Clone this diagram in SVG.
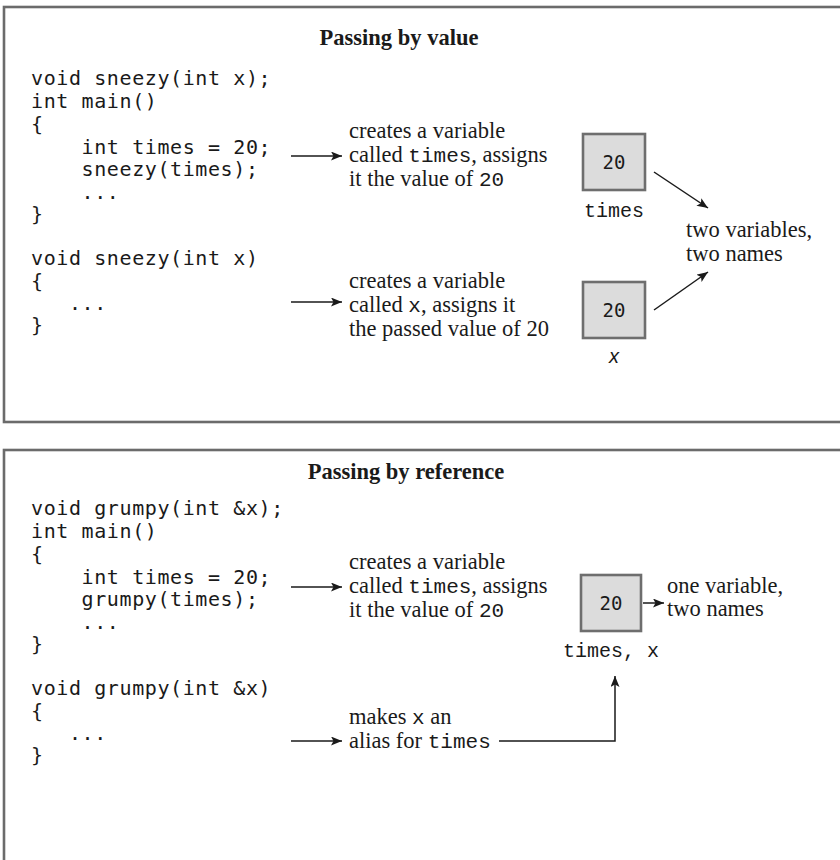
<svg xmlns="http://www.w3.org/2000/svg" width="840" height="860" viewBox="0 0 840 860">
<defs>
<marker id="ah" markerUnits="userSpaceOnUse" markerWidth="12" markerHeight="10" refX="11" refY="4.5" orient="auto">
<path d="M0,0 L11,4.5 L0,9 L2.5,4.5 z" fill="#1a1a1a"/>
</marker>
<style>
.frame{fill:none;stroke:#6b6b6b;stroke-width:2.6}
.title{font-family:"Liberation Serif","Times New Roman",serif;font-weight:bold;font-size:22.5px;fill:#1a1a1a}
.code{font-family:"DejaVu Sans Mono",monospace;font-size:20px;letter-spacing:0.6px;fill:#1a1a1a;white-space:pre}
.desc{font-family:"Liberation Serif","Times New Roman",serif;font-size:22.5px;fill:#1a1a1a}
.mono{font-family:"Liberation Mono","Courier New",monospace;font-size:21px}
.box{fill:#dcdcdc;stroke:#6e6e6e;stroke-width:2.6}
.val{font-family:"DejaVu Sans Mono",monospace;font-size:19px;fill:#1a1a1a;text-anchor:middle}
.lbl{font-family:"Liberation Mono","Courier New",monospace;font-size:20px;fill:#1a1a1a;text-anchor:middle;white-space:pre}
.conn{fill:none;stroke:#1a1a1a;stroke-width:1.5}
</style>
</defs>
<rect width="840" height="860" fill="#ffffff"/>

<g id="panel-value">
<rect class="frame" x="4" y="7" width="850" height="415"/>
<text class="title" x="399" y="45" text-anchor="middle">Passing by value</text>
</g>
<g id="panel-reference">
<rect class="frame" x="4" y="450" width="850" height="430"/>
<text class="title" x="406" y="479" text-anchor="middle">Passing by reference</text>
</g>

<g id="code-value-main">
<text class="code" x="31" y="85">void sneezy(int x);</text>
<text class="code" x="31" y="108">int main()</text>
<text class="code" x="31" y="131">{</text>
<text class="code" x="31" y="154">    int times = 20;</text>
<text class="code" x="31" y="176">    sneezy(times);</text>
<text class="code" x="31" y="199">    ...</text>
<text class="code" x="31" y="221">}</text>
</g>
<g id="code-value-func">
<text class="code" x="31" y="265">void sneezy(int x)</text>
<text class="code" x="31" y="288">{</text>
<text class="code" x="31" y="310">   ...</text>
<text class="code" x="31" y="332">}</text>
</g>

<g id="desc-value-1">
<text class="desc" x="349" y="138">creates a variable</text>
<text class="desc" x="349" y="162">called <tspan class="mono">times</tspan>, assigns</text>
<text class="desc" x="349" y="186">it the value of <tspan class="mono">20</tspan></text>
</g>
<g id="desc-value-2">
<text class="desc" x="349" y="288">creates a variable</text>
<text class="desc" x="349" y="312">called <tspan class="mono">x</tspan>, assigns it</text>
<text class="desc" x="349" y="336">the passed value of 20</text>
</g>

<g id="box-times">
<rect class="box" x="583" y="134" width="62" height="56"/>
<text class="val" x="614" y="169">20</text>
<text class="lbl" x="614" y="217">times</text>
</g>
<g id="box-x">
<rect class="box" x="583" y="282" width="62" height="56"/>
<text class="val" x="614" y="317">20</text>
<text x="614" y="363" text-anchor="middle" font-family="Liberation Sans, Arial, sans-serif" font-style="italic" font-size="20" fill="#1a1a1a">x</text>
</g>
<g id="note-two">
<text class="desc" x="686" y="237">two variables,</text>
<text class="desc" x="686" y="261">two names</text>
</g>

<g id="code-ref-main">
<text class="code" x="31" y="515">void grumpy(int &amp;x);</text>
<text class="code" x="31" y="538">int main()</text>
<text class="code" x="31" y="561">{</text>
<text class="code" x="31" y="584">    int times = 20;</text>
<text class="code" x="31" y="606">    grumpy(times);</text>
<text class="code" x="31" y="629">    ...</text>
<text class="code" x="31" y="651">}</text>
</g>
<g id="code-ref-func">
<text class="code" x="31" y="695">void grumpy(int &amp;x)</text>
<text class="code" x="31" y="718">{</text>
<text class="code" x="31" y="740">   ...</text>
<text class="code" x="31" y="762">}</text>
</g>

<g id="desc-ref-1">
<text class="desc" x="349" y="569">creates a variable</text>
<text class="desc" x="349" y="593">called <tspan class="mono">times</tspan>, assigns</text>
<text class="desc" x="349" y="617">it the value of <tspan class="mono">20</tspan></text>
</g>
<g id="desc-ref-2">
<text class="desc" x="349" y="724">makes <tspan class="mono">x</tspan> an</text>
<text class="desc" x="349" y="748">alias for <tspan class="mono">times</tspan></text>
</g>

<g id="box-shared">
<rect class="box" x="581" y="575" width="60" height="56"/>
<text class="val" x="611" y="610">20</text>
<text class="lbl" x="611" y="657">times, x</text>
</g>
<g id="note-one">
<text class="desc" x="667" y="593">one variable,</text>
<text class="desc" x="667" y="616">two names</text>
</g>

<g id="connectors">
<line class="conn" x1="291" y1="156" x2="342" y2="156" marker-end="url(#ah)"/>
<line class="conn" x1="291" y1="302" x2="342" y2="302" marker-end="url(#ah)"/>
<line class="conn" x1="654" y1="172" x2="708" y2="208" marker-end="url(#ah)"/>
<line class="conn" x1="654" y1="310" x2="708" y2="272" marker-end="url(#ah)"/>
<line class="conn" x1="291" y1="587" x2="342" y2="587" marker-end="url(#ah)"/>
<line class="conn" x1="291" y1="741" x2="342" y2="741" marker-end="url(#ah)"/>
<line class="conn" x1="643" y1="603" x2="664" y2="603" marker-end="url(#ah)"/>
<polyline class="conn" points="499,741 615,741 615,676" marker-end="url(#ah)"/>
</g>
</svg>
